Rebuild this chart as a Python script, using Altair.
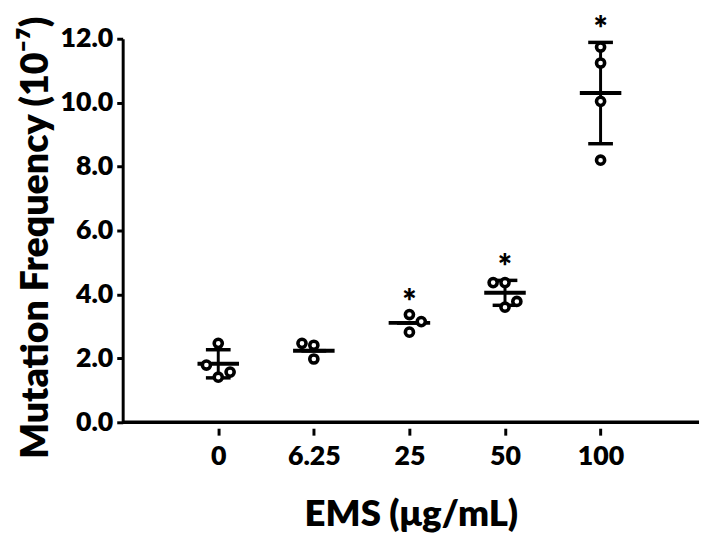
import json
import altair as alt
import pandas as pd

# ---- data ----
doses = ["0", "6.25", "25", "50", "100"]
values = [
    [2.47, 1.79, 1.41, 1.57],
    [2.47, 2.41, 1.98],
    [3.37, 3.15, 2.82],
    [4.37, 4.37, 3.78, 3.60],
    [11.74, 11.24, 10.04, 8.20],
]
jitter = [
    [0, -1, 0, 1],
    [-1, 0, 0],
    [0, 1, 0],
    [-1, 0, 1, 0],
    [0, 0, 0, 0],
]
means = [1.83, 2.24, 3.11, 4.05, 10.30]
sds = [0.44, 0.0, 0.0, 0.39, 1.585]
stars = ["", "", "*", "*", "*"]

JSTEP = 0.124
XMAX = 6.03
FONT = "Lato"
W = 800

rows = []
for i, (vs, js) in enumerate(zip(values, jitter)):
    for v, j in zip(vs, js):
        rows.append({"pos": i + 1 + j * JSTEP, "v": v})
pts = pd.DataFrame(rows)

summ = pd.DataFrame({
    "pos": list(range(1, len(doses) + 1)),
    "mean": means,
    "lo": [m - s for m, s in zip(means, sds)],
    "hi": [m + s for m, s in zip(means, sds)],
    "star": stars,
})
summ["top"] = [max(h, max(vs)) for h, vs in zip(summ["hi"], values)]

axis_line = pd.DataFrame({"a": [0.0], "b": [XMAX], "v": [0.0]})

label_expr = json.dumps(doses) + "[datum.value - 1]"

xscale = alt.Scale(domain=[0, XMAX], nice=False, zero=False)
yscale = alt.Scale(domain=[0, 12], nice=False)

xaxis = alt.Axis(
    values=list(range(1, len(doses) + 1)), labelExpr=label_expr,
    domain=False, offset=6, tickSize=7, tickWidth=3, tickColor="black",
    labelFont=FONT, labelFontWeight=W, labelFontSize=27, labelColor="black",
    labelPadding=9, grid=False,
    title="EMS (μg/mL)", titleFont=FONT, titleFontWeight=W, titleFontSize=37,
    titleColor="black", titlePadding=27,
)
yaxis = alt.Axis(
    values=[0, 2, 4, 6, 8, 10, 12], format=".1f",
    domain=True, domainWidth=3, domainColor="black",
    tickSize=6, tickWidth=3, tickColor="black",
    labelFont=FONT, labelFontWeight=W, labelFontSize=27, labelColor="black",
    labelPadding=4, grid=False,
    title="Mutation Frequency (10⁻⁷)", titleFont=FONT, titleFontWeight=W,
    titleFontSize=38, titleColor="black", titlePadding=5, titleY=201,
)


def X(field):
    return alt.X(field, scale=xscale, axis=xaxis)


def Y(field):
    return alt.Y(field, scale=yscale, axis=yaxis)


xline = alt.Chart(axis_line).mark_rule(color="black", strokeWidth=3.5).encode(
    x=X("a:Q"), x2="b:Q", y=Y("v:Q")
)

vline = alt.Chart(summ).mark_rule(color="black", strokeWidth=3).encode(
    x=X("pos:Q"), y=Y("lo:Q"), y2="hi:Q"
)
cap_lo = alt.Chart(summ).mark_tick(orient="horizontal", size=25, thickness=3.5, color="black", opacity=1).encode(
    x=X("pos:Q"), y=Y("lo:Q")
)
cap_hi = alt.Chart(summ).mark_tick(orient="horizontal", size=25, thickness=3.5, color="black", opacity=1).encode(
    x=X("pos:Q"), y=Y("hi:Q")
)
mean_line = alt.Chart(summ).mark_tick(orient="horizontal", size=42, thickness=4, color="black", opacity=1).encode(
    x=X("pos:Q"), y=Y("mean:Q")
)
points = alt.Chart(pts).mark_point(
    shape="circle", filled=True, fill="white", stroke="black", strokeWidth=3.6, size=68, opacity=1
).encode(x=X("pos:Q"), y=Y("v:Q"))

star_text = alt.Chart(summ).transform_filter("datum.star != ''").mark_text(
    font=FONT, fontWeight=W, fontSize=34, color="black", baseline="alphabetic", dy=-1
).encode(x=X("pos:Q"), y=Y("top:Q"), text="star:N")

chart = alt.layer(xline, vline, cap_lo, cap_hi, mean_line, points, star_text).properties(
    width=583, height=388,
    padding={"left": 116, "top": 28, "right": 2, "bottom": 117},
    autosize=alt.AutoSizeParams(type="none"),
).configure_view(stroke=None)

chart.save("out.html", embed_options={"renderer": "svg", "actions": False})
